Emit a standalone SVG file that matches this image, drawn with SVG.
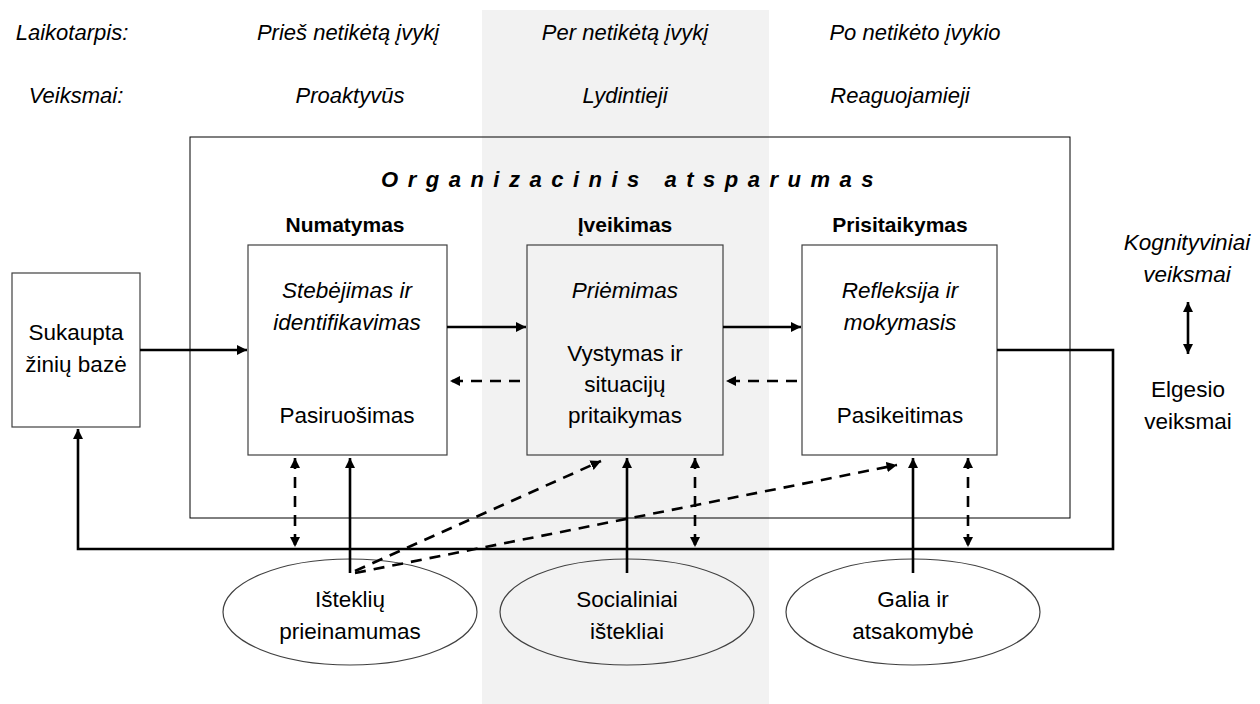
<svg xmlns="http://www.w3.org/2000/svg" width="1260" height="704" viewBox="0 0 1260 704">
<style>
text{font-family:"Liberation Sans",Arial,sans-serif;fill:#000;text-anchor:middle}
.hd{font-size:22px;font-style:italic}
.t{font-size:22.5px}
.it{font-style:italic}
.b{font-weight:bold;font-size:21px}
.box{fill:#fff;stroke:#404040;stroke-width:1.2}
.gbox{fill:#f2f2f2;stroke:#404040;stroke-width:1.2}
.c{fill:none;stroke:#000;stroke-width:2.6}
.d{fill:none;stroke:#000;stroke-width:2.6;stroke-dasharray:11 8}
</style>
<defs>
<marker id="ah" viewBox="0 0 10 10" refX="10" refY="5" markerWidth="4" markerHeight="4" orient="auto-start-reverse" markerUnits="strokeWidth">
<path d="M0,0 L10,5 L0,10 z" fill="#000"/>
</marker>
</defs>
<rect x="0" y="0" width="1260" height="704" fill="#fff"/>
<rect id="band" x="482" y="10" width="287" height="694" fill="#f2f2f2"/>
<g id="header">
<text class="hd" x="72" y="40">Laikotarpis:</text>
<text class="hd" x="348" y="40">Prieš netikėtą įvykį</text>
<text class="hd" x="625" y="40">Per netikėtą įvykį</text>
<text class="hd" x="915" y="40">Po netikėto įvykio</text>
<text class="hd" x="76" y="103">Veiksmai:</text>
<text class="hd" x="350" y="103">Proaktyvūs</text>
<text class="hd" x="625" y="103">Lydintieji</text>
<text class="hd" x="900" y="103">Reaguojamieji</text>
</g>
<g id="outer">
<rect x="190" y="137" width="880" height="381" fill="none" stroke="#000" stroke-width="1"/>
<text x="632" y="187" style="font-size:22px;font-weight:bold;font-style:italic;letter-spacing:9.5px">Organizacinis atsparumas</text>
</g>
<g id="sukaupta">
<rect class="box" x="12" y="273" width="128" height="154"/>
<text class="t" x="76" y="340">Sukaupta</text>
<text class="t" x="76" y="372">žinių bazė</text>
</g>
<g id="numatymas">
<text class="b" x="345" y="232">Numatymas</text>
<rect class="box" x="248" y="245" width="199" height="210"/>
<text class="t it" x="347" y="298">Stebėjimas ir</text>
<text class="t it" x="347" y="330">identifikavimas</text>
<text class="t" x="347" y="423">Pasiruošimas</text>
</g>
<g id="iveikimas">
<text class="b" x="625" y="232">Įveikimas</text>
<rect class="gbox" x="527" y="245" width="196" height="210"/>
<text class="t it" x="625" y="298">Priėmimas</text>
<text class="t" x="625" y="361">Vystymas ir</text>
<text class="t" x="625" y="392">situacijų</text>
<text class="t" x="625" y="423">pritaikymas</text>
</g>
<g id="prisitaikymas">
<text class="b" x="900" y="232">Prisitaikymas</text>
<rect class="box" x="802" y="245" width="195" height="210"/>
<text class="t it" x="900" y="298">Refleksija ir</text>
<text class="t it" x="900" y="330">mokymasis</text>
<text class="t" x="900" y="423">Pasikeitimas</text>
</g>
<g id="istekliu">
<ellipse class="box" cx="350" cy="612" rx="127" ry="53"/>
<text class="t" x="350" y="607">Išteklių</text>
<text class="t" x="350" y="639">prieinamumas</text>
</g>
<g id="socialiniai">
<ellipse class="gbox" cx="627" cy="612" rx="127" ry="53"/>
<text class="t" x="627" y="607">Socialiniai</text>
<text class="t" x="627" y="639">ištekliai</text>
</g>
<g id="galia">
<ellipse class="box" cx="913" cy="612" rx="127" ry="53"/>
<text class="t" x="913" y="607">Galia ir</text>
<text class="t" x="913" y="639">atsakomybė</text>
</g>
<g id="legend">
<text class="t it" x="1187" y="250">Kognityviniai</text>
<text class="t it" x="1187" y="282">veiksmai</text>
<text class="t" x="1188" y="397">Elgesio</text>
<text class="t" x="1188" y="429">veiksmai</text>
</g>
<g id="connectors">
<line class="c" x1="140" y1="350" x2="247" y2="350" marker-end="url(#ah)"/>
<line class="c" x1="447" y1="327" x2="526" y2="327" marker-end="url(#ah)"/>
<line class="c" x1="723" y1="327" x2="801" y2="327" marker-end="url(#ah)"/>
<line class="d" x1="520" y1="381" x2="450" y2="381" marker-end="url(#ah)"/>
<line class="d" x1="797" y1="381" x2="726" y2="381" marker-end="url(#ah)"/>
<polyline class="c" points="997,350 1113,350 1113,549 78,549 78,429" marker-end="url(#ah)"/>
<line class="d" x1="295" y1="458" x2="295" y2="547" stroke-dasharray="10 7" marker-start="url(#ah)" marker-end="url(#ah)"/>
<line class="d" x1="695" y1="458" x2="695" y2="547" stroke-dasharray="10 7" marker-start="url(#ah)" marker-end="url(#ah)"/>
<line class="d" x1="968" y1="458" x2="968" y2="547" stroke-dasharray="10 7" marker-start="url(#ah)" marker-end="url(#ah)"/>
<line class="c" x1="350" y1="573" x2="350" y2="458" marker-end="url(#ah)"/>
<line class="c" x1="627" y1="573" x2="627" y2="458" marker-end="url(#ah)"/>
<line class="c" x1="913" y1="573" x2="913" y2="458" marker-end="url(#ah)"/>
<line class="d" x1="355" y1="571" x2="601" y2="461" marker-end="url(#ah)"/>
<line class="d" x1="355" y1="573" x2="897" y2="465" marker-end="url(#ah)"/>
<line class="c" x1="1188" y1="302" x2="1188" y2="354" stroke-width="3.5" marker-start="url(#ah)" marker-end="url(#ah)"/>
</g>
</svg>
